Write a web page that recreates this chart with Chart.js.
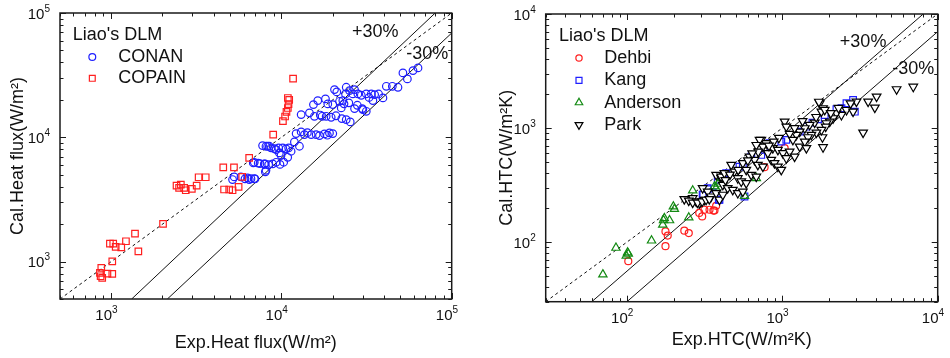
<!DOCTYPE html>
<html>
<head>
<meta charset="utf-8">
<script src="https://cdn.jsdelivr.net/npm/chart.js@4.4.0/dist/chart.umd.min.js"></script>
<style>
  html, body { margin: 0; padding: 0; background: #fff; }
  #wrap { position: relative; width: 950px; height: 358px; }
  .box { position: absolute; top: 0; width: 475px; height: 358px; }
</style>
</head>
<body>
<div id="wrap">
  <div class="box" style="left:0"><canvas id="chart-flux" width="475" height="358"></canvas></div>
  <div class="box" style="left:475px"><canvas id="chart-htc" width="475" height="358"></canvas></div>
</div>
<script>
const FONT = "'Liberation Sans', Arial, sans-serif";

// ---- left panel: heat flux (W/m2), [exp, cal]
const conanPts = [
  [5160, 4570], [5280, 4800], [5780, 4800], [6105, 4630], [6320, 4710], [6470, 4570], [6620, 4650],
  [6925, 4650], [6990, 4630], [6830, 6220], [6925, 6290], [7480, 6140], [7930, 6110], [8005, 6110],
  [8410, 6030], [8875, 6110], [9295, 6290], [8040, 5270], [8110, 5430], [7745, 8575], [8110, 8470],
  [8295, 8470], [8485, 8470], [8685, 8220], [9080, 8110], [9295, 7960], [9630, 8220], [9720, 7490],
  [10170, 8220], [10640, 8070], [11020, 8220], [9945, 7165], [10880, 6905], [11390, 7720], [11910, 9180],
  [12750, 8470], [12190, 10710], [13050, 11050], [13640, 10510], [14940, 10510], [15980, 10510],
  [16720, 10320], [17890, 10650], [19140, 10850], [20020, 10710], [13050, 15230], [14600, 15720],
  [15620, 14760], [17340, 14760], [18300, 14760], [19590, 14490], [15410, 18330], [16340, 19740],
  [18130, 20370], [18710, 18570], [20020, 18330], [21930, 19480], [22930, 19740], [20490, 24200],
  [21130, 23190], [24010, 25260], [25100, 23760], [23780, 22350], [26870, 24200], [26260, 22350],
  [22620, 14140], [24010, 13880], [25350, 13300], [22440, 17240], [24870, 18920], [26870, 17020],
  [29830, 17020], [31490, 16190], [30070, 16710], [28110, 22350], [29430, 21780], [31490, 22350],
  [33710, 22350], [35250, 22060], [34450, 19740], [39450, 20750], [41300, 25730], [44800, 25730],
  [48350, 25260], [51700, 32960], [54900, 29500], [59250, 34400], [63400, 36170],
  [7300, 6200], [9800, 6050], [10300, 6300], [14200, 10900], [18600, 10400], [16900, 15100],
  [20900, 14900], [23300, 18600], [27900, 18100], [32700, 20900], [37200, 22300]
];
const copainPts = [
  [874, 890], [866, 762], [885, 740], [950, 800], [1014, 796], [858, 811], [1014, 1005], [982, 1395],
  [1027, 1395], [1062, 1313], [1145, 1303], [1220, 1457], [1379, 1680], [1443, 1210], [2015, 2010],
  [2418, 4085], [2564, 4160], [2680, 3915], [2503, 3915], [2740, 3750], [2975, 3850], [3175, 4085],
  [3260, 4770], [3590, 4770], [4550, 5730], [5260, 5730], [4600, 3800], [4930, 3800], [5160, 3750],
  [5600, 3990], [5880, 4810], [6460, 6830], [8940, 10500], [10200, 13500], [11700, 29600],
  [10900, 20700], [11100, 20000], [11000, 18500], [10900, 17200], [10700, 16000], [10500, 14700]
];
const fluxParity = [[500, 500], [100000, 100000]];
const fluxUpper = [[1318, 500], [80000, 100000]];
const fluxLower = [[2137, 500], [100000, 69000]];

// ---- right panel: HTC (W/m2K), [exp, cal]
const dehbiPts = [
  [102, 68], [177, 124], [183, 114], [177, 92], [234, 126], [250, 120], [292, 180], [305, 168],
  [315, 192], [360, 189], [375, 208], [340, 192], [366, 189], [769, 454], [1035, 666]
];
const kangPts = [
  [310, 260], [331, 291], [357, 272], [390, 235], [2854, 1762], [2588, 1648], [2402, 1491],
  [2230, 1462], [2929, 1392], [1875, 1302], [1698, 1194], [1563, 1115], [1429, 1028], [1294, 930],
  [1170, 871], [1061, 787], [985, 760], [828, 736], [769, 643], [732, 581], [631, 562], [557, 475],
  [530, 459], [435, 402], [384, 351], [331, 297], [307, 260], [571, 251], [394, 235]
];
const andersonPts = [
  [70, 52], [85, 89], [99, 76], [101, 81], [102, 79], [144, 103], [170, 142], [172, 155], [174, 162],
  [188, 155], [199, 205], [202, 195], [250, 164], [265, 283], [384, 324], [394, 339], [680, 363],
  [571, 254], [375, 297], [366, 307]
];
const parkPts = [
  [6961, 2304], [5438, 2188], [4043, 1884], [3567, 1703], [3940, 1509], [3311, 912], [3000, 1703],
  [2748, 1648], [2588, 1439], [2854, 1392], [2400, 1302], [2230, 1348], [2121, 1219], [2019, 1138],
  [1923, 1102], [1740, 1648], [1828, 1491], [1785, 1392], [1812, 830], [1828, 679], [1902, 1028],
  [1785, 962], [1657, 912], [1538, 871], [1463, 830], [1616, 1115], [1500, 1065], [1395, 996],
  [1294, 930], [1231, 871], [1035, 1138], [1061, 1028], [1114, 888], [1170, 787], [1294, 687],
  [1395, 760], [1429, 666], [732, 787], [788, 736], [869, 666], [937, 643], [1009, 602], [1114, 621],
  [1061, 544], [1200, 562], [807, 602], [849, 526], [891, 492], [937, 459], [985, 430], [615, 562],
  [663, 526], [696, 475], [750, 459], [557, 492], [586, 430], [631, 388], [680, 375], [469, 475],
  [492, 415], [517, 363], [544, 340], [586, 329], [375, 388], [404, 363], [414, 318], [445, 297],
  [480, 287], [517, 269], [557, 277], [307, 297], [331, 277], [348, 251], [375, 269], [394, 235],
  [414, 260], [265, 243], [279, 227], [293, 220], [315, 235], [234, 238], [250, 231], [265, 222],
  [285, 222], [305, 227], [323, 235], [339, 238], [404, 375], [424, 402], [1720, 1700], [1875, 1442],
  [714, 787], [750, 687], [680, 710],
  [2300, 1500], [2050, 1350], [1650, 1250], [1350, 1150], [1200, 1000], [950, 820], [880, 760],
  [820, 700], [700, 620], [640, 600], [600, 520], [520, 430], [460, 390], [430, 350]
];
const htcParity = [[30, 30], [10000, 10000]];
const htcUpper = [[59.4, 30], [8070, 10000]];
const htcLower = [[100, 30], [10000, 7000]];

function decades(min, max) {
  const out = [];
  for (let e = Math.ceil(Math.log10(min) - 1e-9); Math.pow(10, e) <= max * 1.0001; e++) {
    out.push({ value: Math.pow(10, e) });
  }
  return out;
}

function logSteps(min, max) {
  const out = [];
  for (let e = Math.floor(Math.log10(min)); Math.pow(10, e) <= max * 1.0001; e++) {
    for (let m = 1; m < 10; m++) {
      const v = m * Math.pow(10, e);
      if (v >= min * 0.9999 && v <= max * 1.0001) out.push({ v, major: m === 1 });
    }
  }
  return out;
}

const pts = arr => arr.map(([x, y]) => ({ x, y }));

function markers(label, data, style, color, fill, rot, r, order) {
  return {
    label, data: pts(data), pointStyle: style, pointRotation: rot,
    pointRadius: r, pointHoverRadius: r, borderColor: color, backgroundColor: fill,
    pointBorderWidth: 1.2, borderWidth: 1.2, inLegend: true, order
  };
}

function guide(data, dash) {
  return {
    data: pts(data), showLine: true, pointRadius: 0, borderColor: '#111',
    borderWidth: 1, borderDash: dash, order: 10
  };
}

function logAxis(min, max, title, horizontal, fitSize, titlePad) {
  return {
    type: 'logarithmic', min, max,
    position: horizontal ? 'bottom' : 'left',
    afterBuildTicks: s => { s.ticks = decades(min, max); },
    afterFit: s => { if (horizontal) s.height = fitSize; else s.width = fitSize; },
    grid: { display: false, drawTicks: false },
    border: { display: false },
    ticks: { display: false },
    title: {
      display: true, text: title, color: '#111', font: { family: FONT, size: 18 },
      padding: horizontal ? { top: 0, bottom: titlePad } : { top: titlePad, bottom: 0 }
    }
  };
}

// "10" with a raised exponent, placed from the scale's own ticks
function powerLabels(ctx, scale, a) {
  const base = '15px ' + FONT, sup = '10px ' + FONT;
  ctx.textAlign = 'left';
  ctx.textBaseline = 'alphabetic';
  scale.ticks.forEach(t => {
    const exp = String(Math.round(Math.log10(t.value)));
    const p = scale.getPixelForValue(t.value);
    ctx.font = base;
    const wb = ctx.measureText('10').width;
    ctx.font = sup;
    const we = ctx.measureText(exp).width;
    let bx, by;
    if (scale.isHorizontal()) {
      bx = p + 0.8 - wb;
      by = a.bottom + 21;
    } else {
      bx = a.left - 10 - we - wb;
      by = p + 5.5;
    }
    ctx.font = base;
    ctx.fillText('10', bx, by);
    ctx.font = sup;
    ctx.fillText(exp, bx + wb, by - 7);
  });
}

// frame with inward ticks, tick labels, legend and band labels
const decor = {
  id: 'decor',
  afterDraw(chart, args, o) {
    const { ctx, chartArea: a, scales: { x, y } } = chart;
    ctx.save();
    ctx.strokeStyle = '#1a1a1a';
    ctx.lineWidth = 1;
    ctx.beginPath();
    logSteps(x.min, x.max).forEach(t => {
      const px = Math.round(x.getPixelForValue(t.v)) + 0.5;
      const len = t.major ? 6 : 3.5;
      ctx.moveTo(px, a.bottom); ctx.lineTo(px, a.bottom - len);
      ctx.moveTo(px, a.top); ctx.lineTo(px, a.top + len);
    });
    logSteps(y.min, y.max).forEach(t => {
      const py = Math.round(y.getPixelForValue(t.v)) + 0.5;
      const len = t.major ? 6 : 3.5;
      ctx.moveTo(a.left, py); ctx.lineTo(a.left + len, py);
      ctx.moveTo(a.right, py); ctx.lineTo(a.right - len, py);
    });
    ctx.stroke();
    ctx.lineWidth = 1.5;
    ctx.strokeRect(a.left, a.top, a.right - a.left, a.bottom - a.top);

    ctx.fillStyle = '#111';
    powerLabels(ctx, x, a);
    powerLabels(ctx, y, a);

    ctx.font = '18px ' + FONT;
    ctx.textBaseline = 'middle';
    ctx.textAlign = 'left';
    ctx.fillText(o.title, o.titleX, o.titleY);
    chart.data.datasets.filter(d => d.inLegend).forEach((d, i) => {
      const cy = o.rowY + i * o.rowH;
      ctx.strokeStyle = d.borderColor;
      ctx.fillStyle = d.backgroundColor;
      ctx.lineWidth = 1.2;
      Chart.helpers.drawPoint(ctx, {
        pointStyle: d.pointStyle, rotation: d.pointRotation || 0,
        radius: d.pointRadius * 0.9, borderWidth: 1.2
      }, o.markerX, cy);
      ctx.fillStyle = '#111';
      ctx.fillText(d.label, o.textX, cy);
    });

    ctx.textAlign = 'center';
    o.notes.forEach(n => {
      ctx.fillText(n.text, x.getPixelForValue(n.x), y.getPixelForValue(n.y));
    });
    ctx.restore();
  }
};

new Chart(document.getElementById('chart-flux'), {
  type: 'scatter',
  data: {
    datasets: [
      markers('CONAN', conanPts, 'circle', '#1f1fff', 'rgba(0,0,0,0)', 0, 3.8, 2),
      markers('COPAIN', copainPts, 'rect', '#ff1f1f', 'rgba(0,0,0,0)', 0, 4.6, 1),
      guide(fluxParity, [3, 3]),
      guide(fluxUpper, []),
      guide(fluxLower, [])
    ]
  },
  options: {
    responsive: false, animation: false, events: [],
    layout: { padding: { top: 13, right: 23.3, left: 0, bottom: 0 } },
    scales: {
      x: logAxis(500, 100000, 'Exp.Heat flux(W/m\u00b2)', true, 59, 4.2),
      y: logAxis(500, 100000, 'Cal.Heat flux(W/m\u00b2)', false, 60, 7.2)
    },
    plugins: {
      legend: { display: false },
      tooltip: { enabled: false },
      decor: {
        title: "Liao's DLM", titleX: 72.7, titleY: 35,
        markerX: 92.3, rowY: 57, rowH: 21.3, textX: 118.3,
        notes: [
          { text: '+30%', x: 35600, y: 70000 },
          { text: '-30%', x: 71800, y: 46900 }
        ]
      }
    }
  },
  plugins: [decor]
});

new Chart(document.getElementById('chart-htc'), {
  type: 'scatter',
  data: {
    datasets: [
      markers('Dehbi', dehbiPts, 'circle', '#ff1f1f', 'rgba(0,0,0,0)', 0, 3.5, 4),
      markers('Kang', kangPts, 'rect', '#1f1fff', 'rgba(0,0,0,0)', 0, 4.7, 3),
      markers('Anderson', andersonPts, 'triangle', '#138a13', 'rgba(0,0,0,0)', 0, 4.8, 2),
      markers('Park', parkPts, 'triangle', '#000', '#fff', 180, 5, 1),
      guide(htcParity, [3, 3]),
      guide(htcUpper, []),
      guide(htcLower, [])
    ]
  },
  options: {
    responsive: false, animation: false, events: [],
    layout: { padding: { top: 14, right: 12.3, left: 0, bottom: 0 } },
    scales: {
      x: logAxis(30, 10000, 'Exp.HTC(W/m\u00b2K)', true, 56.3, 7.2),
      y: logAxis(30, 10000, 'Cal.HTC(W/m\u00b2K)', false, 70.7, 21.2)
    },
    plugins: {
      legend: { display: false },
      tooltip: { enabled: false },
      decor: {
        title: "Liao's DLM", titleX: 84, titleY: 36,
        markerX: 104, rowY: 58, rowH: 22.3, textX: 129.3,
        notes: [
          { text: '+30%', x: 3311, y: 5710 },
          { text: '-30%', x: 6960, y: 3292 }
        ]
      }
    }
  },
  plugins: [decor]
});
</script>
</body>
</html>
